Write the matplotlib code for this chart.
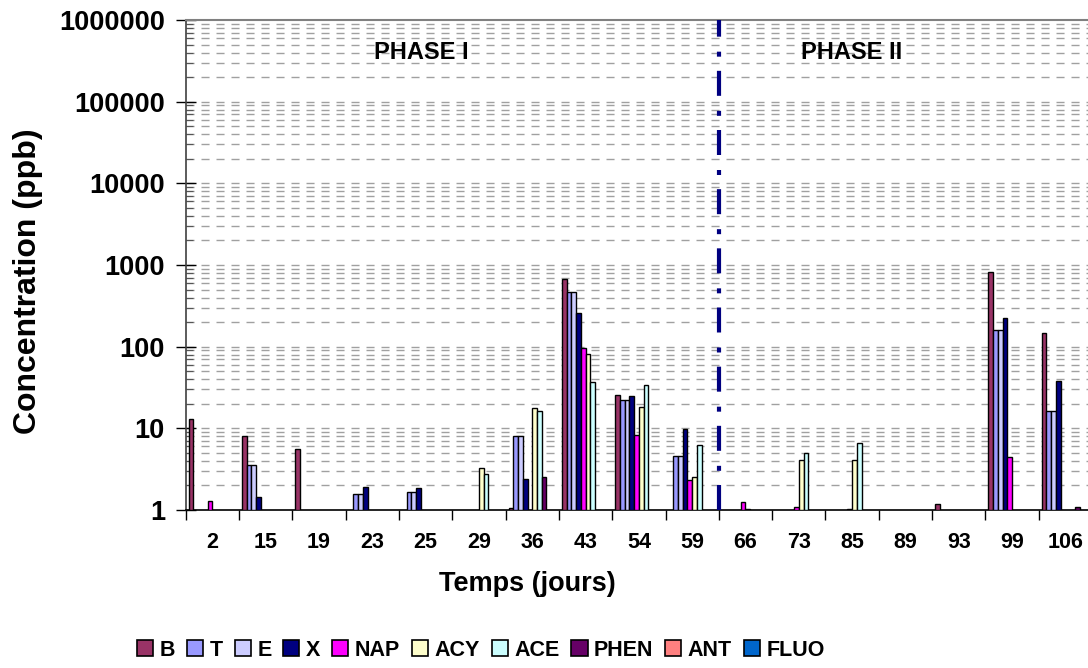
import numpy as np
import matplotlib
matplotlib.use('Agg')
import matplotlib.pyplot as plt
from matplotlib.patches import Patch
from matplotlib.ticker import FixedLocator, NullFormatter
from matplotlib import font_manager

plt.rcParams['font.family'] = ['Liberation Sans', 'DejaVu Sans']
plt.rcParams['font.weight'] = 'bold'

nan = np.nan

# Temps (jours)
jours = ['2', '15', '19', '23', '25', '29', '36', '43', '54', '59',
         '66', '73', '85', '89', '93', '99', '106']

# Concentrations (ppb), nan = pas de barre
B = [12.9, 8.0, 5.6, nan, nan, nan, 1.05, 668, 25.6, nan,
     nan, nan, nan, nan, 1.18, 828, 146]
T = [nan, 3.55, nan, 1.58, 1.65, nan, 8.1, 463, 22.2, 4.58,
     nan, nan, nan, nan, nan, 160, 16.4]
E = [nan, 3.55, nan, 1.58, 1.65, nan, 8.1, 463, 22.2, 4.58,
     nan, nan, nan, nan, nan, 160, 16.4]
X = [nan, 1.46, nan, 1.92, 1.86, nan, 2.42, 256, 24.7, 9.8,
     nan, nan, nan, nan, nan, 222, 38.3]
NAP = [1.3, nan, nan, nan, nan, nan, nan, 95.3, 8.36, 2.33,
       1.26, 1.09, 1.02, nan, nan, 4.5, nan]
ACY = [nan, nan, nan, nan, nan, 3.24, 17.9, 81.3, 18.2, 2.56,
       1.03, 4.09, 4.1, nan, nan, nan, nan]
ACE = [nan, nan, nan, nan, nan, 2.76, 16.4, 36.9, 33.9, 6.2,
       nan, 5.0, 6.55, nan, nan, nan, nan]
PHEN = [nan, nan, nan, nan, nan, nan, 2.54, nan, nan, nan,
        nan, nan, nan, nan, nan, nan, 1.1]
ANT = [nan] * 17
FLUO = [nan] * 17

series = ['B', 'T', 'E', 'X', 'NAP', 'ACY', 'ACE', 'PHEN', 'ANT', 'FLUO']
valeurs = [B, T, E, X, NAP, ACY, ACE, PHEN, ANT, FLUO]
couleurs = ['#993366', '#9999FF', '#CCCCFF', '#000080', '#FF00FF',
            '#FFFFCC', '#CCFFFF', '#660066', '#FF8080', '#0066CC']

# police étroite pour la légende si elle existe
noms = {f.name for f in font_manager.fontManager.ttflist}
leg_font = 'Liberation Sans Narrow' if 'Liberation Sans Narrow' in noms else 'Liberation Sans'
leg_size = 19 if leg_font == 'Liberation Sans Narrow' else 15.5

fig = plt.figure(figsize=(10.88, 6.68), dpi=100)
ax = fig.add_axes([0.1707, 0.2365, 0.833, 0.7335])

n = len(series)
w = 0.089
x = np.arange(len(jours))
for i, (nom, vals, c) in enumerate(zip(series, valeurs, couleurs)):
    v = np.array(vals, dtype=float)
    pos = x - n * w / 2 + (i + 0.5) * w
    ax.bar(pos, v - 1, bottom=1, width=w, color=c, edgecolor='black',
           linewidth=1.0, zorder=3)

ax.set_yscale('log')
ax.set_ylim(1, 1e6)
ax.set_xlim(-0.5, len(jours) - 0.5)

# graduations
major = [10 ** k for k in range(7)]
ax.yaxis.set_major_locator(FixedLocator(major))
ax.set_yticklabels([str(m) for m in major], fontsize=19.5, fontweight='bold')
minor = [m * 10 ** k for k in range(6) for m in range(2, 10)]
ax.yaxis.set_minor_locator(FixedLocator(minor))
ax.yaxis.set_minor_formatter(NullFormatter())
ax.tick_params(axis='y', which='major', direction='inout', length=14, width=1, pad=8)
ax.tick_params(axis='y', which='minor', direction='in', length=5, width=0.8, color='#555555')

ax.set_xticks(x)
ax.set_xticklabels(jours, fontsize=15.5, fontweight='bold')
ax.tick_params(axis='x', which='major', length=0, pad=16)
ax.set_xticks(np.arange(len(jours) + 1) - 0.5, minor=True)
ax.tick_params(axis='x', which='minor', direction='out', length=7, width=1)

for yv in major[1:-1] + minor:
    ax.axhline(yv, color='#a0a0a0', linewidth=1.0, linestyle=(0, (5.8, 5)), zorder=1)

ax.spines['right'].set_visible(False)
ax.spines['top'].set_color('#808080')
ax.spines['top'].set_linewidth(1.5)
ax.spines['left'].set_color('#404040')
ax.spines['left'].set_linewidth(1.2)
ax.spines['bottom'].set_linewidth(1.2)

# separation des phases
ax.axvline(9.5, color='#000080', linewidth=3, linestyle=(0, (6.0, 3.4, 1.2, 3.6)), zorder=4)
ax.text(3.91, 0.933, 'PHASE I', transform=ax.get_xaxis_transform(),
        ha='center', va='center', fontsize=17, fontweight='bold')
ax.text(12.0, 0.933, 'PHASE II', transform=ax.get_xaxis_transform(),
        ha='center', va='center', fontsize=17, fontweight='bold')

fig.text(28 / 1088, 1 - 281 / 668, 'Concentration (ppb)', rotation=90,
         ha='center', va='center', fontsize=23, fontweight='bold')
fig.text(527 / 1088, 1 - 584 / 668, 'Temps (jours)', ha='center', va='center',
         fontsize=19.5, fontweight='bold')

handles = [Patch(facecolor=c, edgecolor='black', linewidth=1.2) for c in couleurs]
fig.legend(handles, series, loc='center', bbox_to_anchor=(481 / 1088, 1 - 650 / 668),
           ncol=10, frameon=False, handlelength=0.75, handleheight=0.75,
           handletextpad=0.3, columnspacing=0.55, borderaxespad=0,
           prop={'family': leg_font, 'weight': 'bold', 'size': leg_size})

fig.savefig('out.png', dpi=100)
